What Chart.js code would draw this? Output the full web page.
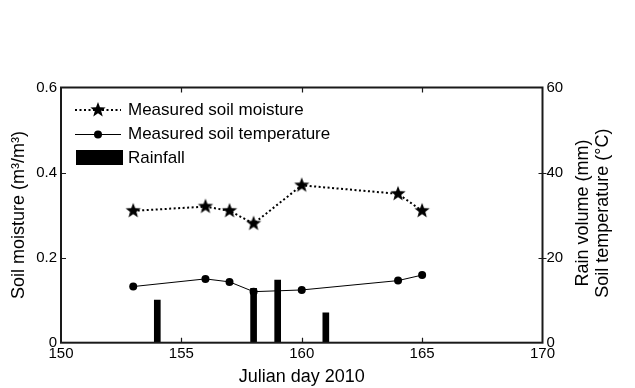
<!DOCTYPE html>
<html lang="en">
<head>
  <meta charset="UTF-8">
  <script src="https://cdn.jsdelivr.net/npm/chart.js"></script>
  <title>Soil moisture, temperature and rainfall</title>
  <style>
    body { margin: 0; background: #fff; }
    canvas { display: block; }
  </style>
</head>
<body>
<canvas id="soilChart" width="635" height="388"></canvas>
<script>
  // measurement days (Julian day 2010)
  const sampleDays = [153, 156, 157, 158, 160, 164, 165];
  const soilMoisture = [0.31, 0.32, 0.31, 0.28, 0.37, 0.35, 0.31];
  const soilTemperature = [13.2, 15.0, 14.3, 12.0, 12.4, 14.6, 15.9];

  const rainDays = [154, 158, 159, 161];
  const rainVolume = [10.0, 12.8, 14.7, 7.0];

  const legendLabels = ['Measured soil moisture', 'Measured soil temperature', 'Rainfall'];
  const rightTitle = ['Rain volume (mm)', 'Soil temperature (\u00B0C)'];

  const FONT = '"Liberation Sans", Arial, sans-serif';

  // filled five point star used as marker
  function makeStar(r) {
    const c = document.createElement('canvas');
    const size = Math.ceil(r * 2 + 2);
    c.width = size; c.height = size;
    const g = c.getContext('2d');
    g.fillStyle = '#000';
    g.beginPath();
    for (let i = 0; i < 10; i++) {
      const rad = i % 2 === 0 ? r : r * 0.42;
      const a = -Math.PI / 2 + i * Math.PI / 5;
      const px = size / 2 + rad * Math.cos(a);
      const py = size / 2 + rad * Math.sin(a);
      if (i === 0) g.moveTo(px, py); else g.lineTo(px, py);
    }
    g.closePath();
    g.fill();
    return c;
  }
  const star = makeStar(8);

  // frame, inward ticks, legend and right axis title
  const decorations = {
    id: 'decorations',
    afterDraw(chart) {
      const ctx = chart.ctx;
      const a = chart.chartArea;
      const x = chart.scales.x, y = chart.scales.y, y2 = chart.scales.y2;
      ctx.save();
      ctx.strokeStyle = '#1a1a1a';
      ctx.lineWidth = 2;
      ctx.strokeRect(a.left, a.top, a.right - a.left, a.bottom - a.top);

      ctx.lineWidth = 1.2;
      ctx.beginPath();
      x.ticks.forEach(t => {
        if (t.value <= x.min || t.value >= x.max) return;
        const px = Math.round(x.getPixelForValue(t.value)) + 0.5;
        ctx.moveTo(px, a.bottom); ctx.lineTo(px, a.bottom - 5);
        ctx.moveTo(px, a.top); ctx.lineTo(px, a.top + 5);
      });
      y.ticks.forEach(t => {
        if (t.value <= y.min || t.value >= y.max) return;
        const py = Math.round(y.getPixelForValue(t.value)) + 0.5;
        ctx.moveTo(a.left, py); ctx.lineTo(a.left + 5, py);
      });
      y2.ticks.forEach(t => {
        if (t.value <= y2.min || t.value >= y2.max) return;
        const py = Math.round(y2.getPixelForValue(t.value)) + 0.5;
        ctx.moveTo(a.right - 4, py); ctx.lineTo(a.right + 4, py);
      });
      ctx.stroke();

      // legend
      const lx0 = 75, lx1 = 121, rows = [110, 134, 158];
      ctx.strokeStyle = '#000';
      ctx.lineWidth = 2;
      ctx.setLineDash([2, 2.5]);
      ctx.beginPath(); ctx.moveTo(lx0, rows[0]); ctx.lineTo(lx1, rows[0]); ctx.stroke();
      ctx.setLineDash([]);
      ctx.drawImage(star, 98 - star.width / 2, rows[0] - star.height / 2);
      ctx.lineWidth = 1;
      ctx.beginPath(); ctx.moveTo(lx0, rows[1] + 0.5); ctx.lineTo(lx1, rows[1] + 0.5); ctx.stroke();
      ctx.fillStyle = '#000';
      ctx.beginPath(); ctx.arc(98, rows[1] + 0.5, 4, 0, Math.PI * 2); ctx.fill();
      ctx.fillRect(76, rows[2] - 8, 47, 15);

      ctx.font = '17px ' + FONT;
      ctx.textBaseline = 'middle';
      ctx.textAlign = 'left';
      legendLabels.forEach((s, i) => ctx.fillText(s, 128, rows[i]));

      // right axis title, two lines reading upwards
      ctx.font = '18px ' + FONT;
      ctx.textAlign = 'center';
      ctx.translate(593, (a.top + a.bottom) / 2 - 2);
      ctx.rotate(-Math.PI / 2);
      ctx.fillText(rightTitle[0], 0, -10);
      ctx.fillText(rightTitle[1], 0, 10);
      ctx.restore();
    }
  };

  const tickFont = { family: FONT, size: 15 };
  const ctx = document.getElementById('soilChart').getContext('2d');
  new Chart(ctx, {
    type: 'line',
    data: {
      datasets: [{
        label: legendLabels[0],
        data: sampleDays.map((d, i) => ({ x: d, y: soilMoisture[i] })),
        yAxisID: 'y',
        borderColor: '#000',
        borderWidth: 2,
        borderDash: [2, 2.5],
        pointStyle: star,
        pointRadius: 8,
        order: 1
      }, {
        label: legendLabels[1],
        data: sampleDays.map((d, i) => ({ x: d, y: soilTemperature[i] })),
        yAxisID: 'y2',
        borderColor: '#000',
        borderWidth: 1,
        pointStyle: 'circle',
        pointRadius: 4,
        pointBorderWidth: 0,
        pointBackgroundColor: '#000',
        order: 2
      }, {
        type: 'bar',
        label: legendLabels[2],
        data: rainDays.map((d, i) => ({ x: d, y: rainVolume[i] })),
        yAxisID: 'y2',
        backgroundColor: '#000',
        barThickness: 6,
        order: 3
      }]
    },
    options: {
      responsive: false,
      animation: false,
      devicePixelRatio: 1,
      layout: { padding: { top: 87.5, left: 0, right: 0, bottom: 0 } },
      plugins: { legend: { display: false }, tooltip: { enabled: false } },
      scales: {
        x: {
          type: 'linear', min: 150, max: 170, offset: false,
          grid: { display: false, drawTicks: false },
          border: { display: false },
          ticks: { stepSize: 5, font: tickFont, color: '#000', padding: 2, maxRotation: 0 },
          title: { display: true, text: 'Julian day 2010', font: { family: FONT, size: 18 }, color: '#000', padding: { top: 0, bottom: 0 } },
          afterFit(s) { s.height = 388 - 342.7; }
        },
        y: {
          position: 'left', min: 0, max: 0.6,
          grid: { display: false, drawTicks: false },
          border: { display: false },
          ticks: { stepSize: 0.2, font: tickFont, color: '#000', padding: 4 },
          title: { display: true, text: 'Soil moisture (m\u00B3/m\u00B3)', font: { family: FONT, size: 18 }, color: '#000', padding: { top: 8, bottom: 0 } },
          afterFit(s) { s.width = 61; }
        },
        y2: {
          position: 'right', min: 0, max: 60,
          grid: { display: false, drawTicks: false },
          border: { display: false },
          ticks: { stepSize: 20, font: tickFont, color: '#000', padding: 4 },
          afterFit(s) { s.width = 635 - 542.5; }
        }
      }
    },
    plugins: [decorations]
  });
</script>
</body>
</html>
